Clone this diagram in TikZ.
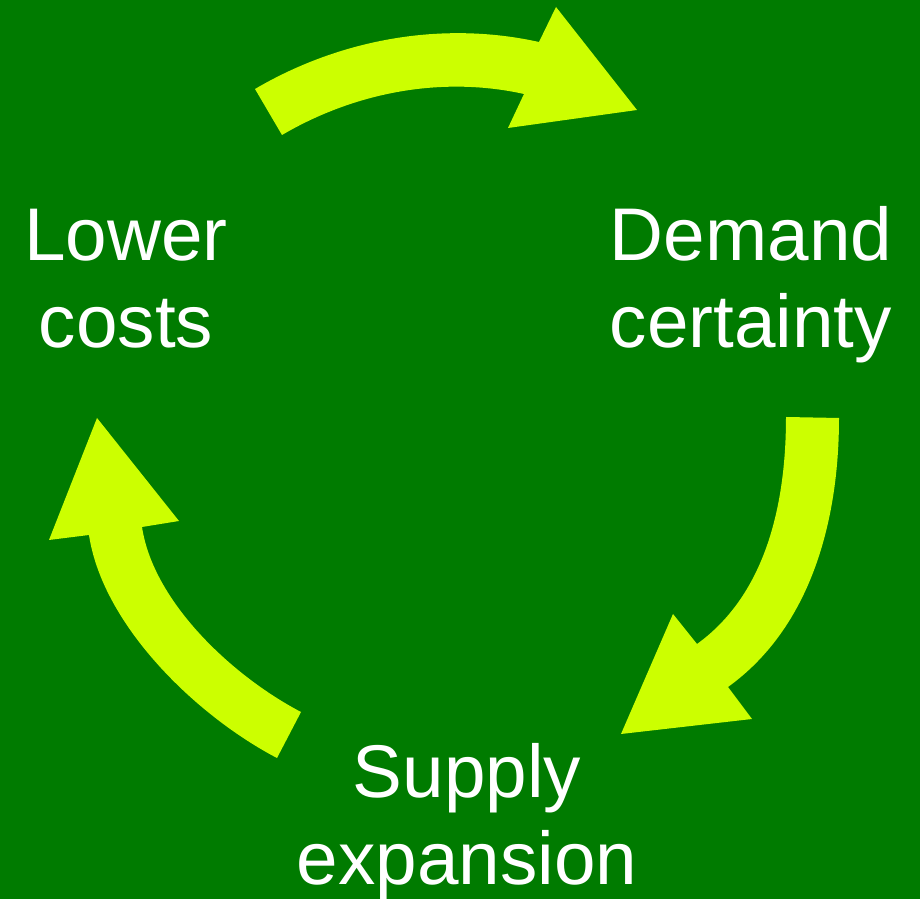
\documentclass[tikz,border=0pt]{standalone}
\usepackage{fontspec}
\setmainfont{Liberation Sans}
\usepackage{xcolor}
\usepackage{tikz}

\definecolor{bggreen}{RGB}{0,123,0}
\definecolor{limegreen}{RGB}{204,255,0}

\tikzset{
  cyclearrow/.style={fill=limegreen, draw=none},
  cycletext/.style={text=white, align=center, inner sep=0pt, anchor=base,
    font=\fontsize{42.5}{50}\selectfont}
}

\begin{document}
\begin{tikzpicture}[x=0.02cm,y=0.02cm]
    % Background
    \useasboundingbox (0,0) rectangle (920,899);
    \fill[bggreen] (0,0) rectangle (920,899);

    % Labels
    \node[cycletext] (lower) at (126,551) {Lower\\costs};
    \node[cycletext] (demand) at (751,551) {Demand\\certainty};
    \node[cycletext] (supply) at (467,14) {Supply\\expansion};

    % Arrows
    \fill[cyclearrow] (255,810) to[out=30.4,in=167.5,looseness=0.88] (539,857)
        -- (556,892) -- (637,789) -- (508,771) -- (524,805)
        to[out=167.5,in=30.4,looseness=0.88] (282,764) -- cycle;
    \fill[cyclearrow] (839,481) to[out=-90,in=35.8,looseness=0.9] (728,212)
        -- (752,180) -- (621,165) -- (673,285) -- (697,255)
        to[out=35.8,in=-90,looseness=0.9] (786,482) -- cycle;
    \fill[cyclearrow] (277,141) to[out=152.4,in=-81.4,looseness=0.8] (89,364)
        -- (49,359) -- (97,481) -- (179,378) -- (142,372)
        to[out=-81.4,in=152.4,looseness=0.8] (301,187) -- cycle;
\end{tikzpicture}
\end{document}
